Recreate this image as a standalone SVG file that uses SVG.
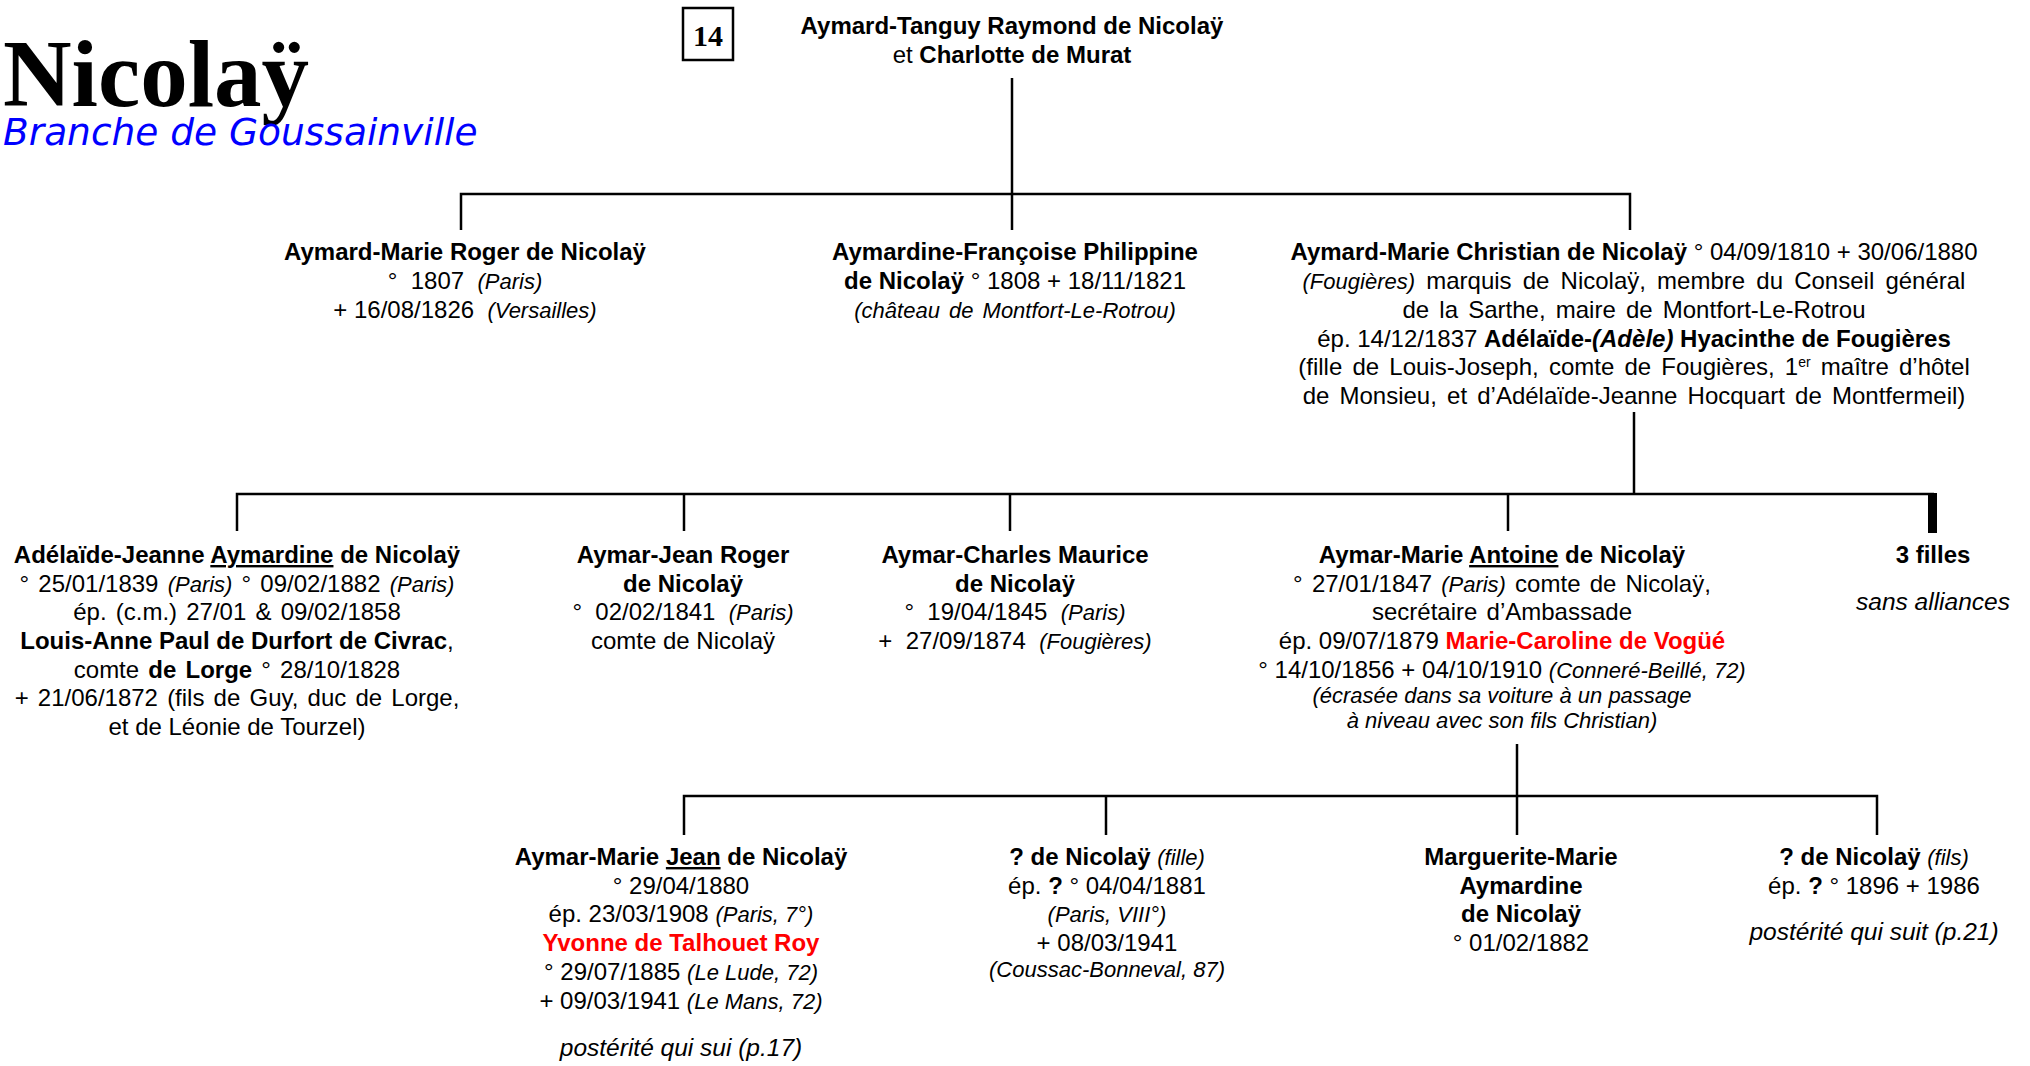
<svg xmlns="http://www.w3.org/2000/svg" width="2030" height="1066" viewBox="0 0 2030 1066">
<style>
text { font-family: "Liberation Sans", Arial, sans-serif; font-size: 24px; fill: #000; text-anchor: middle; }
.b { font-weight: bold; }
.i { font-style: italic; font-size: 22px; }
.bi { font-style: italic; font-weight: bold; }
.r { fill: #ff0000; font-weight: bold; }
.u { text-decoration: underline; }
.big { font-style: italic; font-size: 24.5px; }
.ws2 { word-spacing: 2.5px; }
.ws3 { word-spacing: 3.5px; }
.conn { fill: none; stroke: #000; stroke-width: 2.5; }
.title { font-family: "Liberation Serif", "Times New Roman", serif; font-weight: bold; font-size: 95px; text-anchor: start; }
.sub { font-family: "DejaVu Sans", Verdana, sans-serif; font-style: italic; font-size: 37.5px; fill: #0000ff; text-anchor: start; }
</style>
<rect width="2030" height="1066" fill="#fff"/>
<g id="header">
<text class="title" x="3" y="106">Nicolaÿ</text>
<text class="sub" x="3" y="145">Branche de Goussainville</text>
</g>
<g id="page-number">
<rect x="683" y="8" width="50" height="52" fill="none" stroke="#000" stroke-width="2.5"/>
<text x="708" y="46" style="font-family: 'Liberation Serif', serif; font-size: 30px; font-weight: bold;">14</text>
</g>
<g id="connectors">
<path class="conn" d="M1012 78 V194"/>
<path class="conn" d="M461 230 V194 H1630 V230"/>
<path class="conn" d="M1012 194 V230"/>
<path class="conn" d="M1634 412 V494"/>
<path class="conn" d="M237 531 V494 H1934"/>
<path class="conn" d="M684 494 V531"/>
<path class="conn" d="M1010 494 V531"/>
<path class="conn" d="M1508 494 V531"/>
<rect x="1928" y="493" width="9" height="40" fill="#000"/>
<path class="conn" d="M1517 744 V835"/>
<path class="conn" d="M684 835 V796 H1877 V835"/>
<path class="conn" d="M1106 796 V835"/>
</g>
<g id="parents">
<text x="1012" y="34" class="b">Aymard-Tanguy Raymond de Nicolaÿ</text>
<text x="1012" y="63">et <tspan class="b">Charlotte de Murat</tspan></text>
</g>
<g id="roger">
<text x="465" y="260" class="b">Aymard-Marie Roger de Nicolaÿ</text>
<text x="465" y="289">°&#160; 1807&#160; <tspan class="i">(Paris)</tspan></text>
<text x="465" y="318">+ 16/08/1826&#160; <tspan class="i">(Versailles)</tspan></text>
</g>
<g id="aymardine-francoise">
<text x="1015" y="260" class="b">Aymardine-Françoise Philippine</text>
<text x="1015" y="289"><tspan class="b">de Nicolaÿ</tspan> ° 1808 + 18/11/1821</text>
<text x="1015" y="318" class="i" style="word-spacing:3px">(château de Montfort-Le-Rotrou)</text>
</g>
<g id="christian">
<text x="1634" y="260"><tspan class="b">Aymard-Marie Christian de Nicolaÿ</tspan> ° 04/09/1810 + 30/06/1880</text>
<text x="1634" y="289" style="word-spacing:4.5px"><tspan class="i">(Fougières)</tspan> marquis de Nicolaÿ, membre du Conseil général</text>
<text x="1634" y="318" class="ws3">de la Sarthe, maire de Montfort-Le-Rotrou</text>
<text x="1634" y="347">ép. 14/12/1837 <tspan class="b">Adélaïde-</tspan><tspan class="bi">(Adèle)</tspan><tspan class="b"> Hyacinthe de Fougières</tspan></text>
<text x="1634" y="375" class="ws3">(fille de Louis-Joseph, comte de Fougières, 1<tspan font-size="14" baseline-shift="super">er</tspan> maître d’hôtel</text>
<text x="1634" y="404" class="ws3">de Monsieu, et d’Adélaïde-Jeanne Hocquart de Montfermeil)</text>
</g>
<g id="adelaide">
<text x="237" y="563" class="b">Adélaïde-Jeanne <tspan class="u">Aymardine</tspan> de Nicolaÿ</text>
<text x="237" y="592" class="ws2">° 25/01/1839 <tspan class="i">(Paris)</tspan> ° 09/02/1882 <tspan class="i">(Paris)</tspan></text>
<text x="237" y="620" class="ws2">ép. (c.m.) 27/01 &amp; 09/02/1858</text>
<text x="237" y="649"><tspan class="b">Louis-Anne Paul de Durfort de Civrac</tspan>,</text>
<text x="237" y="678" class="ws2">comte <tspan class="b">de Lorge</tspan> ° 28/10/1828</text>
<text x="237" y="706" class="ws2">+ 21/06/1872 (fils de Guy, duc de Lorge,</text>
<text x="237" y="735">et de Léonie de Tourzel)</text>
</g>
<g id="aymar-jean">
<text x="683" y="563" class="b">Aymar-Jean Roger</text>
<text x="683" y="592" class="b">de Nicolaÿ</text>
<text x="683" y="620">°&#160; 02/02/1841&#160; <tspan class="i">(Paris)</tspan></text>
<text x="683" y="649">comte de Nicolaÿ</text>
</g>
<g id="aymar-charles">
<text x="1015" y="563" class="b">Aymar-Charles Maurice</text>
<text x="1015" y="592" class="b">de Nicolaÿ</text>
<text x="1015" y="620">°&#160; 19/04/1845&#160; <tspan class="i">(Paris)</tspan></text>
<text x="1015" y="649">+&#160; 27/09/1874&#160; <tspan class="i">(Fougières)</tspan></text>
</g>
<g id="antoine">
<text x="1502" y="563" class="b">Aymar-Marie <tspan class="u">Antoine</tspan> de Nicolaÿ</text>
<text x="1502" y="592" class="ws2">° 27/01/1847 <tspan class="i">(Paris)</tspan> comte de Nicolaÿ,</text>
<text x="1502" y="620" class="ws2">secrétaire d’Ambassade</text>
<text x="1502" y="649">ép. 09/07/1879 <tspan class="r">Marie-Caroline de Vogüé</tspan></text>
<text x="1502" y="678">° 14/10/1856 + 04/10/1910 <tspan class="i">(Conneré-Beillé, 72)</tspan></text>
<text x="1502" y="703" class="i">(écrasée dans sa voiture à un passage</text>
<text x="1502" y="728" class="i">à niveau avec son fils Christian)</text>
</g>
<g id="trois-filles">
<text x="1933" y="563" class="b">3 filles</text>
<text x="1933" y="610" class="big">sans alliances</text>
</g>
<g id="jean">
<text x="681" y="865" class="b">Aymar-Marie <tspan class="u">Jean</tspan> de Nicolaÿ</text>
<text x="681" y="894">° 29/04/1880</text>
<text x="681" y="922">ép. 23/03/1908 <tspan class="i">(Paris, 7°)</tspan></text>
<text x="681" y="951" class="r">Yvonne de Talhouet Roy</text>
<text x="681" y="980">° 29/07/1885 <tspan class="i">(Le Lude, 72)</tspan></text>
<text x="681" y="1009">+ 09/03/1941 <tspan class="i">(Le Mans, 72)</tspan></text>
<text x="681" y="1056" class="big">postérité qui sui (p.17)</text>
</g>
<g id="fille">
<text x="1107" y="865"><tspan class="b">? de Nicolaÿ</tspan> <tspan class="i">(fille)</tspan></text>
<text x="1107" y="894">ép. <tspan class="b">?</tspan> ° 04/04/1881</text>
<text x="1107" y="922" class="i">(Paris, VIII°)</text>
<text x="1107" y="951">+ 08/03/1941</text>
<text x="1107" y="977" class="i">(Coussac-Bonneval, 87)</text>
</g>
<g id="marguerite">
<text x="1521" y="865" class="b">Marguerite-Marie</text>
<text x="1521" y="894" class="b">Aymardine</text>
<text x="1521" y="922" class="b">de Nicolaÿ</text>
<text x="1521" y="951">° 01/02/1882</text>
</g>
<g id="fils">
<text x="1874" y="865"><tspan class="b">? de Nicolaÿ</tspan> <tspan class="i">(fils)</tspan></text>
<text x="1874" y="894">ép. <tspan class="b">?</tspan> ° 1896 + 1986</text>
<text x="1874" y="940" class="big">postérité qui suit (p.21)</text>
</g>
</svg>
